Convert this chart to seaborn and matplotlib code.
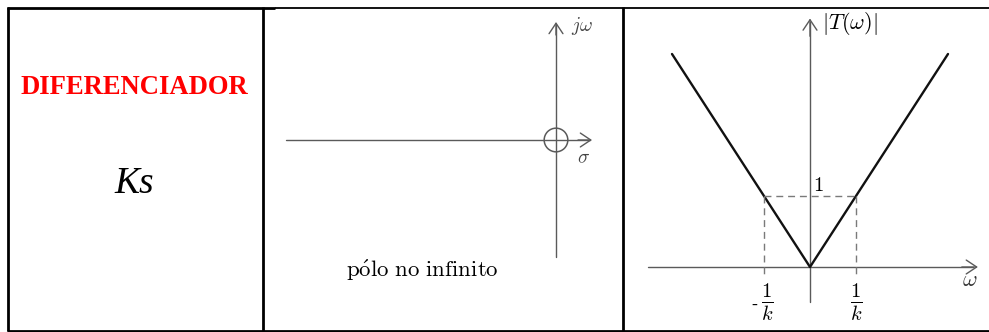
import matplotlib
matplotlib.use("Agg")
import matplotlib.pyplot as plt
import numpy as np
import pandas as pd
import seaborn as sns

# Asymptotic magnitude of the differentiator T(s) = Ks, in units of 1/k
omega_pts = [-3.0, 0.0, 3.0]
mag_pts = [3.0, 0.0, 3.0]
corner = 1.0          # |T| = 1 at omega = +/- 1/k
zero_sigma, zero_jw = 0.0, 0.0   # zero of Ks at the origin

title_text = "DIFERENCIADOR"
tf_text = "Ks"
pz_note = r"$\mathrm{p\acute{o}lo\ no\ infinito}$"

sns.set_theme(style="white")
plt.rcParams["mathtext.fontset"] = "cm"
plt.rcParams["font.family"] = ["Liberation Serif", "DejaVu Serif"]

W, H = 989, 332
fig = plt.figure(figsize=(W / 100, H / 100), dpi=100)
fig.patch.set_facecolor("white")


def px_rect(x0, y0, x1, y1):
    return [x0 / W, 1 - y1 / H, (x1 - x0) / W, (y1 - y0) / H]


# Table frame
frame = fig.add_axes([0, 0, 1, 1])
frame.set_xlim(0, W)
frame.set_ylim(H, 0)
frame.axis("off")
lw_frame = 2.0
for x in (7.5, 262.5, 622.5):
    frame.plot([x, x], [7, 331], color="black", lw=lw_frame, solid_capstyle="butt")
frame.plot([6.5, 275], [7.5, 7.5], color="black", lw=lw_frame, solid_capstyle="butt")
frame.plot([275, 989], [7.5, 7.5], color="black", lw=1.3, solid_capstyle="butt")
frame.plot([6.5, 989], [330.8, 330.8], color="black", lw=lw_frame, solid_capstyle="butt")

# First cell: name and transfer function
frame.text(134.5, 87, title_text, color="red", fontsize=19.2, fontweight="bold",
           ha="center", va="center", family="Liberation Serif")
frame.text(134.5, 184, tf_text, color="black", fontsize=27, style="italic",
           ha="center", va="center", family="Liberation Serif")

axis_col = "#5a5a5a"
arrow_kw = dict(arrowstyle="->,head_length=0.75,head_width=0.5", color=axis_col,
                lw=1.0, mutation_scale=10, shrinkA=0, shrinkB=0)

# Second cell: s-plane (10 px per unit, origin at the zero)
ax_pz = fig.add_axes(px_rect(263, 8, 621, 330))
ax_pz.set_xlim((263 - 556) / 10, (621 - 556) / 10)
ax_pz.set_ylim((140 - 330) / 10, (140 - 8) / 10)
ax_pz.axis("off")
ax_pz.plot([-27.0, 3.4], [0, 0], color=axis_col, lw=1.0)
ax_pz.annotate("", xy=(3.6, 0), xytext=(2.2, 0), arrowprops=arrow_kw)
ax_pz.plot([0, 0], [-11.7, 11.6], color=axis_col, lw=1.0)
ax_pz.annotate("", xy=(0, 11.8), xytext=(0, 10.5), arrowprops=arrow_kw)
sns.scatterplot(x=[zero_sigma], y=[zero_jw], ax=ax_pz, s=290, marker="o",
                facecolor="none", edgecolor=axis_col, linewidth=1.1, legend=False)
ax_pz.text(1.5, 11.4, r"$j\omega$", fontsize=14, color="#444444", ha="left", va="center")
ax_pz.text(2.1, -1.9, r"$\sigma$", fontsize=14, color="#444444", ha="left", va="center")
ax_pz.text(-13.4, -13.0, pz_note, fontsize=16.5, color="black", ha="center", va="center")

# Third cell: |T(w)| (46 px per unit in w, 71 px per unit in |T|)
ax_m = fig.add_axes(px_rect(623, 8, 989, 330))
ax_m.set_xlim((623 - 810) / 46, (989 - 810) / 46)
ax_m.set_ylim((267 - 330) / 71, (267 - 8) / 71)
ax_m.axis("off")
ax_m.plot([-3.52, 3.55], [0, 0], color=axis_col, lw=1.0)
ax_m.annotate("", xy=(3.65, 0), xytext=(3.3, 0), arrowprops=arrow_kw)
ax_m.plot([0, 0], [-0.49, 3.45], color=axis_col, lw=1.0)
ax_m.annotate("", xy=(0, 3.5), xytext=(0, 3.25), arrowprops=arrow_kw)

df = pd.DataFrame({"omega": omega_pts, "mag": mag_pts})
sns.lineplot(data=df, x="omega", y="mag", ax=ax_m, color="#111111", lw=1.7,
             sort=False, estimator=None)

dash_col = "#7a7a7a"
ax_m.plot([-corner, corner], [1, 1], ls=(0, (5, 3.5)), color=dash_col, lw=1.0)
for c in (-corner, corner):
    ax_m.plot([c, c], [1, -0.15], ls=(0, (5, 3.5)), color=dash_col, lw=1.0)

ax_m.text(0.06, 1.13, r"$1$", fontsize=15, color="black", ha="left", va="center")
ax_m.text(0.25, 3.43, r"$|T(\omega)|$", fontsize=16, color="black", ha="left", va="center")
ax_m.text(3.48, -0.2, r"$\omega$", fontsize=16, color="#333333", ha="center", va="center")
ax_m.text(-corner + 0.07, -0.5, r"$\frac{1}{k}$", fontsize=21, color="black",
          ha="center", va="center")
ax_m.text(-corner - 0.2, -0.54, "-", fontsize=13, color="black", ha="center", va="center")
ax_m.text(corner, -0.5, r"$\frac{1}{k}$", fontsize=21, color="black",
          ha="center", va="center")

fig.savefig("out.png", dpi=100, facecolor="white")
